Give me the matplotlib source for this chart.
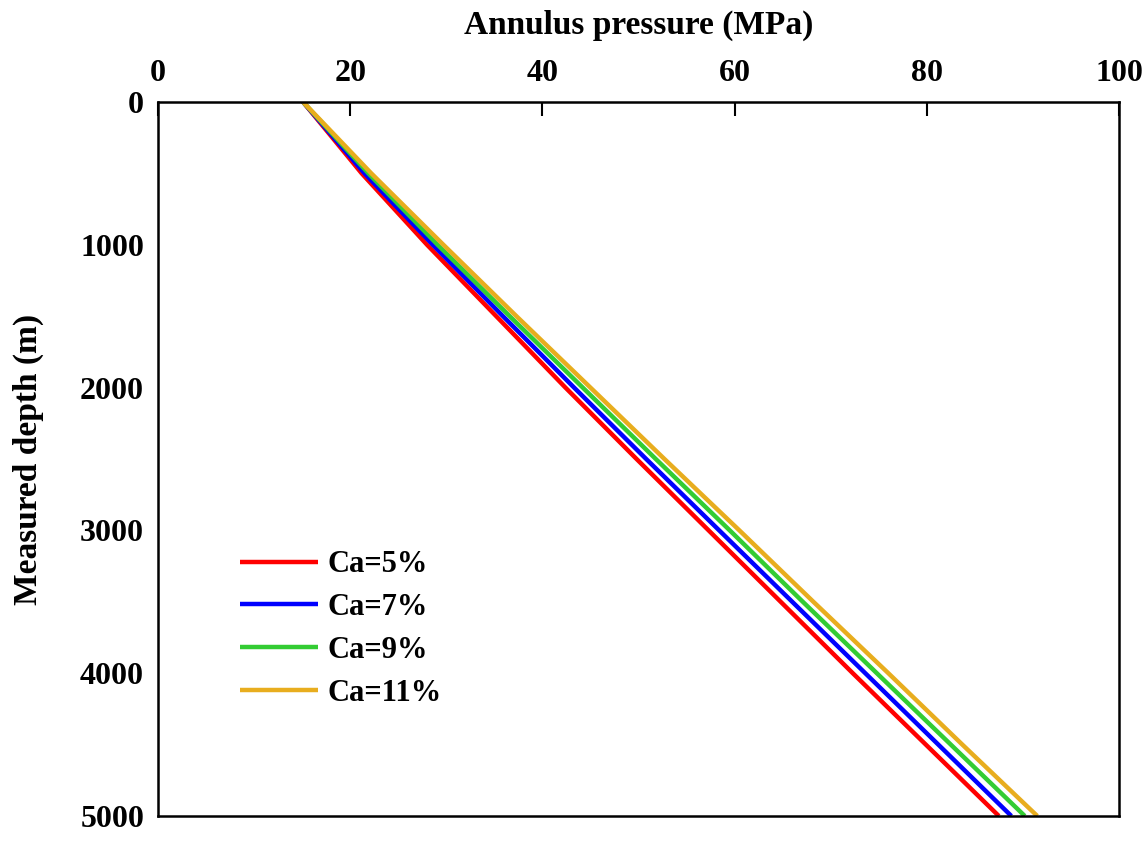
import numpy as np
import matplotlib
matplotlib.use('Agg')
import matplotlib.pyplot as plt

plt.rcParams['font.family'] = ['Liberation Serif', 'DejaVu Serif']
plt.rcParams['font.weight'] = 'bold'

depth = [0, 500, 1000, 1500, 2000, 2500, 3000, 3500, 4000, 4500, 5000]
p_ca5 = [15.1, 21.2, 28.0, 35.2, 42.4, 49.8, 57.3, 64.8, 72.3, 79.9, 87.5]
p_ca7 = [15.1, 21.5, 28.6, 35.9, 43.3, 50.8, 58.4, 66.0, 73.6, 81.2, 88.8]
p_ca9 = [15.1, 21.9, 29.1, 36.6, 44.2, 51.8, 59.5, 67.1, 74.8, 82.5, 90.2]
p_ca11 = [15.1, 22.2, 29.7, 37.3, 45.0, 52.7, 60.5, 68.2, 76.0, 83.7, 91.5]
labels = ['Ca=5%', 'Ca=7%', 'Ca=9%', 'Ca=11%']
colors = ['#FF0000', '#0000FF', '#33CC33', '#E8AD1E']

fig = plt.figure(figsize=(11.48, 8.42), dpi=100)
ax = fig.add_axes([0.1376, 0.0309, 0.8371, 0.848])

for p, lab, c in zip([p_ca5, p_ca7, p_ca9, p_ca11], labels, colors):
    ax.plot(p, depth, color=c, lw=3.2, label=lab, solid_capstyle='butt')

ax.set_xlim(0, 100)
ax.set_ylim(5000, 0)
ax.set_xticks([0, 20, 40, 60, 80, 100])
ax.set_yticks([0, 1000, 2000, 3000, 4000, 5000])
ax.xaxis.tick_top()
ax.xaxis.set_label_position('top')
ax.tick_params(axis='x', direction='in', length=10, width=1.5, pad=10, labelsize=23)
ax.tick_params(axis='y', length=0, pad=10, labelsize=23)
for s in ax.spines.values():
    s.set_linewidth(1.8)

ax.set_xlabel('Annulus pressure (MPa)', fontsize=24, fontweight='bold', labelpad=18)
ax.set_ylabel('Measured depth (m)', fontsize=24, fontweight='bold', labelpad=26)

ax.legend(loc='upper left', bbox_to_anchor=(0.085, 0.372), frameon=False,
          fontsize=22, handlelength=2.55, handletextpad=0.33, labelspacing=0.45,
          borderpad=0, borderaxespad=0)

fig.savefig('out.png', dpi=100)
